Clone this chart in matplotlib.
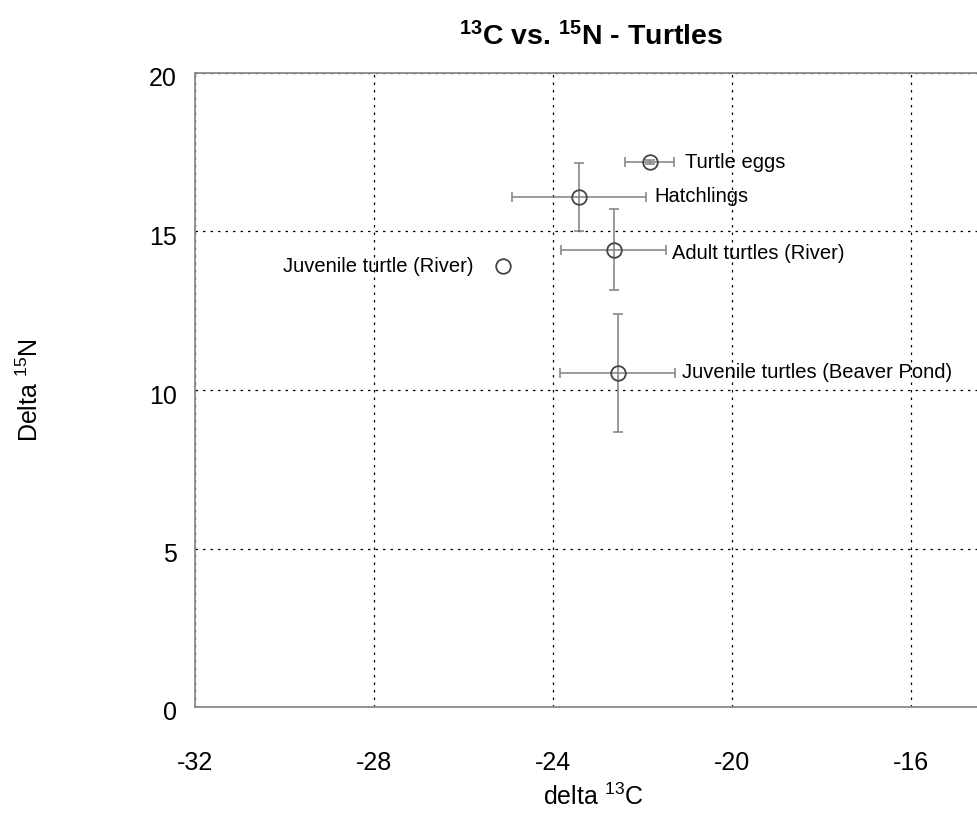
import numpy as np
import matplotlib
matplotlib.use('Agg')
from matplotlib import pyplot as plt
from matplotlib import transforms

plt.rcParams['font.family'] = ['Liberation Sans', 'DejaVu Sans']
plt.rcParams['axes.unicode_minus'] = False
plt.rcParams['mathtext.fontset'] = 'custom'
plt.rcParams['mathtext.rm'] = 'Liberation Sans'
plt.rcParams['mathtext.it'] = 'Liberation Sans'
plt.rcParams['mathtext.bf'] = 'Liberation Sans:bold'

# data
groups = ['Turtle eggs', 'Hatchlings', 'Adult turtles (River)',
          'Juvenile turtle (River)', 'Juvenile turtles (Beaver Pond)']
d13c = [-21.83, -23.42, -22.64, -25.12, -22.55]
d15n = [17.19, 16.09, 14.42, 13.91, 10.54]
c_err = [0.55, 1.50, 1.18, 0.0, 1.28]
n_err = [0.05, 1.07, 1.28, 0.0, 1.86]
xticks = [-32, -28, -24, -20, -16]
yticks = [0, 5, 10, 15, 20]

fig = plt.figure(figsize=(9.78, 8.17), dpi=100)
ax = fig.add_axes([195/978, 1 - 707/817, 805/978, 634/817])

for i in range(len(groups)):
    if c_err[i] > 0:
        ax.errorbar(d13c[i], d15n[i], xerr=c_err[i], yerr=n_err[i], fmt='none',
                    ecolor='#808080', elinewidth=1.1, capsize=3.5, capthick=1.1, zorder=3)
    ax.plot(d13c[i], d15n[i], 'o', mfc='none', mec='#444444', ms=10.5, mew=1.3, zorder=4)

# labels next to the points
ax.text(d13c[0] + 0.78, d15n[0], groups[0], fontsize=14.5, va='center', ha='left')
ax.text(d13c[1] + 1.7, d15n[1], groups[1], fontsize=14.5, va='center', ha='left')
ax.text(d13c[2] + 1.3, d15n[2] - 0.12, groups[2], fontsize=14.5, va='center', ha='left')
ax.text(d13c[3] - 0.65, d15n[3], groups[3], fontsize=14.5, va='center', ha='right')
ax.text(d13c[4] + 1.45, d15n[4], groups[4], fontsize=14.5, va='center', ha='left')

ax.set_xlim(-32, -14)
ax.set_ylim(0, 20)
ax.set_xticks(xticks)
ax.set_yticks(yticks)
ax.tick_params(length=0, labelsize=18)
ax.tick_params(axis='x', pad=32)
ax.tick_params(axis='y', pad=13)
shift = transforms.ScaledTranslation(0, -4/100, fig.dpi_scale_trans)
for lab in ax.get_yticklabels():
    lab.set_transform(lab.get_transform() + shift)

ax.grid(True, color='black', linestyle=(0, (2, 4)), linewidth=0.9)
for s in ax.spines.values():
    s.set_color('#8a8a8a')
    s.set_linewidth(1.3)

fig.text(593/978, 1 - 797/817, 'delta $^{13}$C', fontsize=18, ha='center', va='center')
fig.text(30/978, 1 - 390/817, 'Delta $^{15}$N', fontsize=18, ha='center', va='center',
         rotation=90)
fig.text(591/978, 1 - 37/817, r'$\mathbf{^{13}}$C vs. $\mathbf{^{15}}$N - Turtles',
         fontsize=20.5, fontweight='bold', ha='center', va='center')

fig.savefig('out.png', dpi=100)
